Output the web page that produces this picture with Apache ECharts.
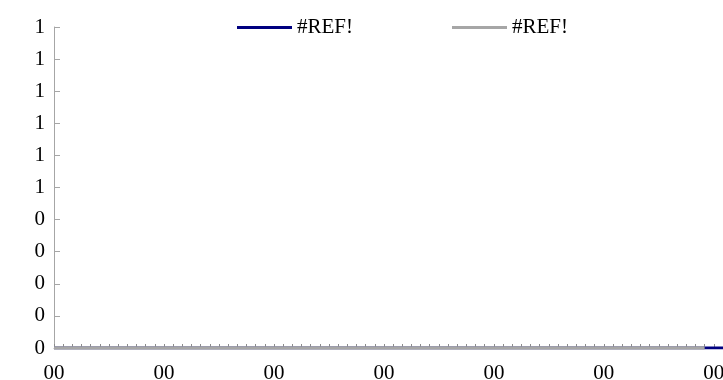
<!DOCTYPE html>
<html>
<head>
<meta charset="utf-8">
<script src="https://cdn.jsdelivr.net/npm/echarts@6/dist/echarts.min.js"></script>
<style>
  html, body { margin: 0; padding: 0; background: #fff; }
  #chart { width: 723px; height: 380px; }
</style>
</head>
<body>
<div id="chart"></div>
<script>
// Hour labels along the category axis
const categories = [
  '00','00','00','00','00','00','00','00','00','00','00','00',
  '00','00','00','00','00','00','00','00','00','00','00','00',
  '00','00','00','00','00','00','00','00','00','00','00','00',
  '00','00','00','00','00','00','00','00','00','00','00','00',
  '00','00','00','00','00','00','00','00','00','00','00','00',
  '00','00','00','00','00','00','00','00','00','00','00','00',
  '00','00'
];

// First series (navy): runs across the whole range
const seriesA = [
  0,0,0,0,0,0,0,0,0,0,0,0,
  0,0,0,0,0,0,0,0,0,0,0,0,
  0,0,0,0,0,0,0,0,0,0,0,0,
  0,0,0,0,0,0,0,0,0,0,0,0,
  0,0,0,0,0,0,0,0,0,0,0,0,
  0,0,0,0,0,0,0,0,0,0,0,0,
  0,0
];

// Second series (grey): stops two points earlier
const seriesB = [
  0,0,0,0,0,0,0,0,0,0,0,0,
  0,0,0,0,0,0,0,0,0,0,0,0,
  0,0,0,0,0,0,0,0,0,0,0,0,
  0,0,0,0,0,0,0,0,0,0,0,0,
  0,0,0,0,0,0,0,0,0,0,0,0,
  0,0,0,0,0,0,0,0,0,0,0,0,
  null,null
];

const seriesNames = ['#REF!', '#REF!'];

// A label on every twelfth category
const labelEvery = 12;

const font = '"Liberation Serif", "Times New Roman", serif';
const axisGrey = '#a6a6a6';

const chart = echarts.init(document.getElementById('chart'), null, { renderer: 'canvas' });

chart.setOption({
  animation: false,
  backgroundColor: '#ffffff',
  textStyle: { fontFamily: font },
  legend: {
    top: 17,
    left: 237,
    padding: 0,
    itemWidth: 55,
    itemHeight: 3,
    itemGap: 99,
    icon: 'rect',
    textStyle: { fontFamily: font, fontSize: 21, color: '#000', padding: [0, 0, 0, 0] },
    data: [
      { name: 'a', icon: 'rect' },
      { name: 'b', icon: 'rect' }
    ],
    formatter: function (n) { return n === 'a' ? seriesNames[0] : seriesNames[1]; }
  },
  grid: {
    left: 54,
    right: 0,
    top: 27,
    bottom: 32,
    containLabel: false,
    outerBoundsMode: 'none'
  },
  xAxis: {
    type: 'category',
    data: categories,
    boundaryGap: false,
    axisLine: { show: true, lineStyle: { color: axisGrey, width: 1 } },
    axisTick: {
      show: true,
      inside: true,
      length: 4,
      interval: 0,
      lineStyle: { color: '#8c8c8c', width: 1 }
    },
    axisLabel: {
      interval: function (i) { return i % labelEvery === 0; },
      margin: 15,
      fontFamily: font,
      fontSize: 21,
      color: '#000',
      hideOverlap: false
    },
    splitLine: { show: false }
  },
  yAxis: {
    type: 'value',
    min: 0,
    max: 1,
    interval: 0.1,
    axisLine: { show: true, lineStyle: { color: axisGrey, width: 1 } },
    axisTick: {
      show: true,
      inside: true,
      length: 6,
      lineStyle: { color: axisGrey, width: 1 }
    },
    axisLabel: {
      margin: 9,
      fontFamily: font,
      fontSize: 21,
      color: '#000',
      formatter: function (v) { return String(Math.round(v)); }
    },
    splitLine: { show: false }
  },
  series: [
    {
      name: 'a',
      type: 'line',
      data: seriesA,
      symbol: 'none',
      lineStyle: { color: '#000080', width: 3 },
      itemStyle: { color: '#000080' },
      z: 2
    },
    {
      name: 'b',
      type: 'line',
      data: seriesB,
      symbol: 'none',
      lineStyle: { color: '#a6a6a6', width: 3.5 },
      itemStyle: { color: '#a6a6a6' },
      z: 3
    }
  ]
});
</script>
</body>
</html>
